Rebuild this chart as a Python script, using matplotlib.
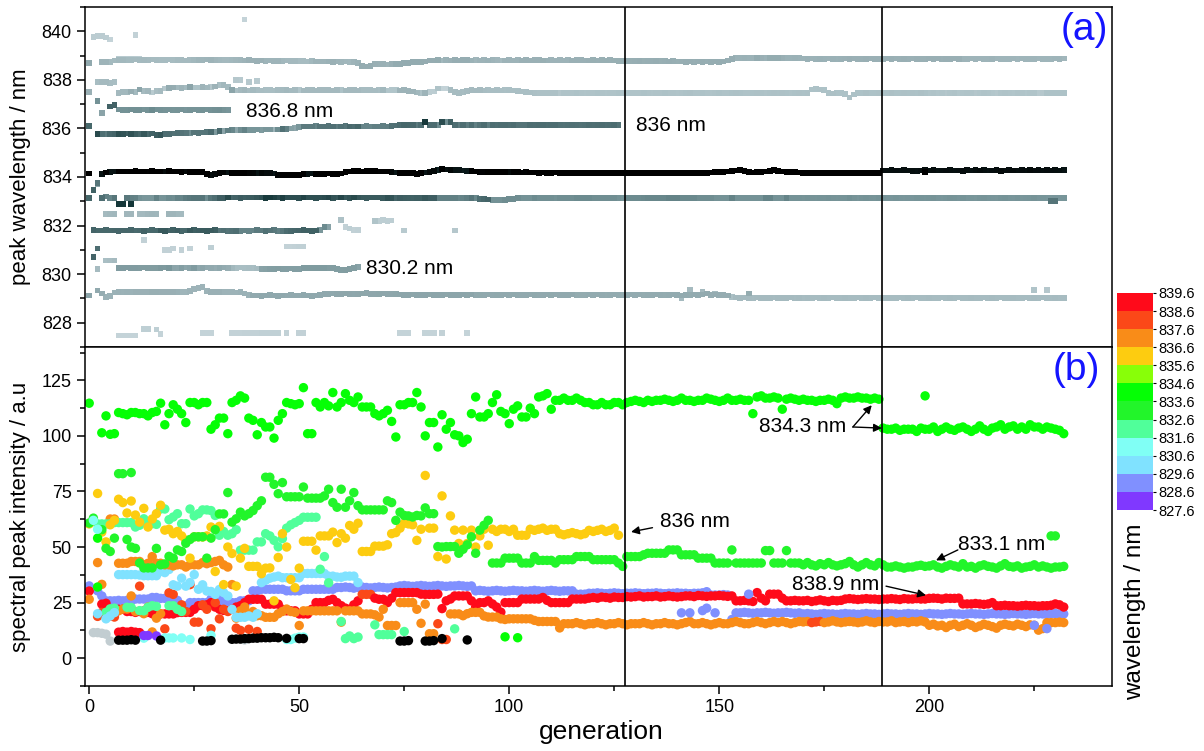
import numpy as np
import matplotlib
matplotlib.use("Agg")
import matplotlib.pyplot as plt
from matplotlib.colors import ListedColormap, BoundaryNorm, LinearSegmentedColormap, Normalize
from matplotlib.cm import ScalarMappable

plt.rcParams['font.family'] = ['Liberation Sans', 'DejaVu Sans']

# ---------------------------------------------------------------------------
# Peak tracks: wavelength (nm) and spectral intensity (a.u.) per generation.
# None marks a generation where the peak was not detected.
# ---------------------------------------------------------------------------

# 834.2 nm mode, generations 0-232
start_834 = 0
wl_834 = [834.14, None, None, 834.13, 834.18, 834.21, 834.23, 834.23, 834.22, 834.23,
          834.23, 834.24, 834.23, 834.22, 834.23, 834.24, 834.23, 834.22, 834.23, 834.24,
          834.23, 834.22, 834.21, 834.22, 834.21, 834.2, 834.2, 834.19, 834.13, 834.07,
          834.13, 834.15, 834.18, 834.18, 834.17, 834.16, 834.16, 834.17, 834.16, 834.16,
          834.17, 834.16, 834.15, 834.15, 834.14, 834.08, 834.07, 834.07, 834.08, 834.07,
          834.09, 834.13, 834.13, 834.14, 834.13, 834.12, 834.13, 834.14, 834.13, 834.12,
          834.14, 834.2, 834.22, 834.24, 834.24, 834.23, 834.24, 834.25, 834.24, 834.23,
          834.23, 834.22, 834.2, 834.18, 834.17, 834.16, 834.16, 834.15, 834.12, 834.16,
          834.18, 834.2, 834.24, 834.3, 834.33, 834.31, 834.28, 834.3, 834.29, 834.27,
          834.25, 834.24, 834.22, 834.21, 834.2, 834.21, 834.2, 834.19, 834.2, 834.19,
          834.2, 834.19, 834.19, 834.18, 834.19, 834.18, 834.18, 834.17, 834.18, 834.17,
          834.17, 834.18, 834.17, 834.17, 834.16, 834.17, 834.16, 834.17, 834.16, 834.16,
          834.16, 834.17, 834.16, 834.16, 834.17, 834.16, 834.16, 834.16, 834.16, 834.17,
          834.16, 834.16, 834.17, 834.16, 834.16, 834.16, 834.17, 834.16, 834.16, 834.17,
          834.16, 834.16, 834.17, 834.16, 834.16, 834.17, 834.16, 834.17, 834.18, 834.2,
          834.21, 834.2, 834.22, 834.24, 834.27, 834.3, 834.26, 834.2, 834.18, 834.19,
          834.2, 834.22, 834.25, 834.28, 834.26, 834.22, 834.2, 834.2, 834.19, 834.18,
          834.17, 834.17, 834.16, 834.16, 834.17, 834.16, 834.16, 834.17, 834.16, 834.16,
          834.16, 834.17, 834.16, 834.16, 834.16, 834.17, 834.16, 834.16, 834.17, 834.27,
          834.27, 834.28, 834.27, 834.27, 834.28, 834.27, 834.24, 834.26, 834.27, 834.28,
          834.27, 834.28, 834.27, 834.27, 834.27, 834.28, 834.27, 834.27, 834.24, 834.28,
          834.27, 834.28, 834.27, 834.28, 834.27, 834.27, 834.28, 834.25, 834.27, 834.28,
          834.27, 834.27, 834.28, 834.27, 834.28, 834.27, 834.28, 834.27, 834.28, 834.27,
          834.28, 834.27, 834.28]
amp_834 = [114.7, None, None, 101.4, 109, 100.7, 101, 110.5, 110, 109.5,
           110.5, 110.5, 110, 110, 109, 110.5, 111, 114.7, 105, 110,
           114, 112, 110, 106, 115, 115, 114, 115, 115, 103,
           105, 108, 108, 101, 115, 116, 118, 117, 108, 107,
           100.5, 106, 104, 104, 99, 107, 110, 115, 114.5, 114,
           114.5, 121.7, 101, 101, 115, 113, 115, 113.5, 119.5, 113,
           115, 119, 116, 115, 117.5, 113, 113, 113, 110, 109,
           110, 111.5, 106.5, 99.5, 114, 114, 115, 115, 119.5, 113,
           100, 106, 106, 95, 109.5, 103, 106, 100.5, 100, 97,
           98.5, 110, 117.5, 108.5, 108.5, 110, 115, 118.5, 111, 110,
           105.5, 112, 113.5, 108.5, 108.5, 112.5, 110, 117.5, 118, 119,
           112, 116, 116, 117, 116, 116, 117, 116, 115, 115,
           114, 114, 115, 114, 114, 115, 115, 114, 115, 115.5,
           116, 115.5, 115, 116, 115.5, 116, 116, 116.5, 116, 115.5,
           116, 117, 116, 116, 115.5, 116, 116, 117, 116.5, 116,
           115.5, 116, 117, 116, 116, 116.5, 116, 116, 110, 117.5,
           118, 117, 117, 117.5, 117, 112, 116.5, 117, 116.5, 116,
           116.5, 116, 116, 115.5, 116, 116, 116.5, 116, 114.5, 117,
           117.5, 117, 117, 117.5, 117, 117, 116.5, 117, 116.5, 103.5,
           103, 103, 103.5, 102.5, 103, 103, 103, 102, 103.5, 103,
           103, 104, 102, 103, 104, 103, 102.5, 103.5, 104, 103,
           102, 103, 104.5, 103, 102, 103.5, 104, 105, 103, 104,
           104.5, 103, 104, 103, 105, 104, 104, 103, 104, 103.5,
           103, 102.5, 101]

# 833.1 nm mode, generations 0-232
start_833 = 0
wl_833 = [833.13, None, None, 833.13, 833.2, 833.13, 833.14, None, None, 833.13,
          833.12, 833.13, 833.14, 833.13, 833.12, 833.13, 833.14, 833.13, 833.12, 833.13,
          833.14, 833.13, 833.12, 833.13, 833.14, 833.13, 833.12, 833.13, 833.14, 833.13,
          833.12, 833.13, 833.14, 833.15, 833.16, 833.15, 833.14, 833.15, 833.16, 833.15,
          833.16, 833.15, 833.14, 833.15, 833.16, 833.15, 833.14, 833.15, 833.16, 833.15,
          833.14, 833.15, 833.16, 833.15, 833.14, 833.15, 833.16, 833.15, 833.14, 833.15,
          833.16, 833.15, 833.14, 833.15, 833.16, 833.15, 833.14, 833.15, 833.16, 833.15,
          833.14, 833.13, 833.14, 833.13, 833.12, 833.13, 833.14, 833.13, 833.12, 833.13,
          833.12, 833.13, 833.14, 833.13, 833.12, 833.13, 833.12, 833.13, 833.12, 833.13,
          833.12, 833.13, 833.12, 833.1, 833.08, 833.07, 833.06, 833.05, 833.04, 833.06,
          833.08, 833.1, 833.12, 833.13, 833.12, 833.13, 833.12, 833.13, 833.12, 833.13,
          833.12, 833.13, 833.12, 833.13, 833.12, 833.13, 833.12, 833.13, 833.12, 833.13,
          833.12, 833.13, 833.12, 833.13, 833.12, 833.13, 833.12, 833.13, 833.12, 833.13,
          833.12, 833.13, 833.12, 833.13, 833.12, 833.13, 833.12, 833.13, 833.12, 833.13,
          833.12, 833.13, 833.12, 833.13, 833.12, 833.13, 833.12, 833.13, 833.12, 833.13,
          833.12, 833.13, 833.12, 833.13, 833.12, 833.13, 833.12, 833.13, 833.12, 833.13,
          833.12, 833.13, 833.12, 833.13, 833.12, 833.13, 833.12, 833.13, 833.12, 833.13,
          833.12, 833.13, 833.12, 833.13, 833.12, 833.13, 833.12, 833.13, 833.12, 833.13,
          833.12, 833.13, 833.12, 833.13, 833.12, 833.13, 833.12, 833.13, 833.12, 833.13,
          833.12, 833.13, 833.12, 833.13, 833.12, 833.13, 833.12, 833.13, 833.12, 833.13,
          833.12, 833.13, 833.12, 833.13, 833.12, 833.13, 833.12, 833.13, 833.12, 833.13,
          833.12, 833.13, 833.12, 833.13, 833.12, 833.13, 833.12, 833.13, 833.12, 833.13,
          833.12, 833.13, 833.12, 833.13, 833.12, 833.13, 833.12, 833.13, 833.12, 833.13,
          833.12, 833.13, 833.12]
amp_833 = [60.8, None, None, 57.8, 49.4, 48, 54, None, None, 53.4,
           50, 49.4, 42.8, 40.6, 40.6, 40.6, 49.4, 42, 42.4, 45.8,
           45, 48.7, 48, 51.7, 53.4, 54.6, 54.6, 54.6, 45, 54,
           57.8, 64.9, 64.9, 74.5, 61.2, 62.7, 65.7, 64, 65, 66.4,
           68.6, 70.8, 81.4, 81.4, 78.2, 74, 79, 72.6, 72.6, 72.6,
           72.6, 77, 72, 72, 72, 72, 73, 76, 70, 67.9,
           76, 67.9, 70.8, 74.5, 68.6, 66.7, 66.7, 66.7, 66.7, 66.7,
           66.7, 70.8, 70, 62, 65.7, 64.2, 64, 63.5, 64.2, 64,
           67.6, 65, 65, 50.2, 50, 50.2, 50.2, 50.2, 47.2, 49,
           51, 54.6, 47.2, 57.6, 59.8, 62, 42.8, 42.8, 42.8, 45,
           45, 45, 45, 42.8, 42.8, 42.8, 45.7, 44, 44, 44,
           44, 42.8, 44.3, 44.3, 44.3, 44.3, 45.7, 45.7, 45.7, 45.7,
           44.3, 44.3, 44.3, 44.3, 44.3, 44.3, 42.8, 41.3, 45.7, 45.7,
           45.7, 45.7, 46.5, 47.2, 47.2, 47.2, 47.2, 47.2, 48.7, 48.7,
           48.7, 46.5, 46.5, 46.5, 46.5, 45, 45, 45, 45, 42.8,
           42.8, 42.8, 42.8, 48.7, 42.8, 42.8, 42.8, 42.8, 42.8, 42.8,
           42.8, 48.4, 48.4, 42.8, 42.8, 42.8, 48.4, 42.8, 42.8, 42.8,
           42, 43, 42, 41.5, 42.5, 42, 43, 42, 41.5, 42,
           42.5, 43.5, 42, 41, 42, 43, 42, 41.5, 43, 42,
           41, 41, 41.5, 41, 40.5, 41, 41, 41.5, 41.8, 41.3,
           41.5, 42, 41, 40.5, 41.3, 42, 41.5, 41, 42.5, 41,
           41.3, 40.5, 41.5, 42, 41.3, 41, 40.5, 41.5, 42.5, 41.3,
           41, 41.5, 40.5, 41, 41.3, 42, 41, 41.5, 41, 40.5,
           41, 41, 41.3]

# 838.9 nm mode, generations 0-232
start_839 = 0
wl_839 = [838.7, None, None, 838.74, 838.74, 838.74, 838.8, 838.83, 838.83, 838.82,
          838.83, 838.84, 838.83, 838.82, 838.83, 838.84, 838.83, 838.82, 838.83, 838.84,
          838.82, 838.83, 838.82, 838.8, 838.82, 838.83, 838.82, 838.83, 838.84, 838.83,
          838.82, 838.81, 838.82, 838.83, 838.82, 838.81, 838.82, 838.8, 838.81, 838.8,
          838.79, 838.8, 838.79, 838.8, 838.79, 838.78, 838.79, 838.8, 838.79, 838.78,
          838.78, 838.77, 838.76, 838.77, 838.76, 838.75, 838.76, 838.75, 838.74, 838.75,
          838.74, 838.75, 838.74, 838.72, 838.7, 838.56, 838.55, 838.56, 838.64, 838.64,
          838.64, 838.63, 838.64, 838.64, 838.65, 838.68, 838.7, 838.72, 838.74, 838.74,
          838.76, 838.8, 838.8, 838.81, 838.8, 838.82, 838.8, 838.83, 838.8, 838.82,
          838.81, 838.8, 838.82, 838.8, 838.81, 838.8, 838.82, 838.81, 838.8, 838.8,
          838.81, 838.8, 838.82, 838.8, 838.81, 838.8, 838.82, 838.81, 838.8, 838.8,
          838.81, 838.8, 838.82, 838.8, 838.81, 838.8, 838.82, 838.81, 838.8, 838.8,
          838.81, 838.8, 838.82, 838.8, 838.81, 838.8, 838.79, 838.78, 838.78, 838.79,
          838.78, 838.77, 838.78, 838.79, 838.78, 838.77, 838.78, 838.77, 838.76, 838.77,
          838.76, 838.75, 838.74, 838.75, 838.74, 838.75, 838.74, 838.75, 838.74, 838.75,
          838.74, 838.76, 838.8, 838.86, 838.9, 838.9, 838.91, 838.9, 838.89, 838.9,
          838.91, 838.9, 838.89, 838.9, 838.91, 838.9, 838.89, 838.9, 838.91, 838.9,
          838.88, 838.87, 838.88, 838.87, 838.86, 838.87, 838.88, 838.87, 838.86, 838.87,
          838.88, 838.87, 838.88, 838.87, 838.86, 838.87, 838.88, 838.87, 838.86, 838.87,
          838.88, 838.87, 838.88, 838.87, 838.86, 838.87, 838.88, 838.87, 838.86, 838.87,
          838.88, 838.87, 838.88, 838.87, 838.86, 838.87, 838.88, 838.87, 838.86, 838.87,
          838.88, 838.87, 838.88, 838.87, 838.86, 838.87, 838.88, 838.87, 838.86, 838.87,
          838.88, 838.87, 838.88, 838.87, 838.86, 838.87, 838.88, 838.87, 838.86, 838.87,
          838.88, 838.87, 838.88]
amp_839 = [30.2, None, None, 24.3, 24.7, 21, 21, 22, 22, 21,
           21, 20.6, 21, 21.3, 20.6, 20, 20, 19.9, 19.9, 19.9,
           19.9, 20.5, 20.6, 20.6, 20.6, 22, 23.6, 23.6, 24, 25,
           23, 22, 21.5, 21.3, 22, 23, 23.6, 25, 26.5, 26.5,
           26.5, 26.5, 24.3, 24.3, 24.3, 24.3, 22, 21.3, 21.3, 21.3,
           19.9, 19.9, 19.9, 22, 25, 25, 25, 26, 26.5, 25,
           23.6, 22.5, 22, 24, 25.8, 28.7, 28.7, 28.7, 27, 26.5,
           26.5, 25, 27, 29.5, 29.5, 29.5, 29.5, 29.5, 29.5, 28.8,
           28.7, 28.7, 28.7, 28.8, 22.3, 25.8, 26.6, 28, 28, 28,
           28, 25.8, 23, 25, 25, 25.8, 24.4, 23, 20.7, 25,
           25, 25, 25, 26.6, 26.6, 26.6, 26.6, 26.6, 27.3, 26,
           25, 25, 25, 25, 25, 26.6, 26.6, 26.6, 26.6, 27,
           27.3, 27, 27.5, 27.3, 27, 27.5, 27.3, 27.3, 27.7, 27.5,
           27.7, 28, 27.5, 27.7, 27.7, 28, 27.5, 27.7, 28, 27.7,
           27.5, 27.7, 28, 28, 27.7, 28.2, 28, 27.8, 28, 28,
           28.2, 28, 27.8, 28, 25.8, 25.8, 26, 25.8, 25.5, 29.5,
           27, 25.8, 28.8, 28.8, 28.8, 27, 25.8, 25.8, 26, 25.8,
           25.8, 26, 25.5, 25.8, 26.2, 25.8, 25.5, 26, 25.8, 26,
           26.6, 26.8, 26.6, 26.4, 26.6, 26.8, 26.6, 26.6, 26.4, 26.6,
           26.6, 26.8, 26.6, 26.4, 26.8, 26.6, 26.6, 26.8, 26.6, 26.6,
           26.9, 27, 26.9, 26.6, 27, 26.9, 26.9, 27, 24.4, 24.4,
           24.4, 24.6, 24.4, 24.2, 24.4, 25, 23.6, 23.6, 23.8, 23.6,
           23.6, 23.4, 23.6, 23.8, 23.6, 23.6, 23.4, 23.6, 23.6, 23.8,
           24.4, 24, 23]

# 837.5 nm mode, generations 0-232
start_837 = 0
wl_837 = [837.5, None, None, None, None, None, None, 837.46, 837.5, 837.5,
          837.52, 837.5, 837.6, 837.54, 837.54, 837.48, 837.54, 837.55, 837.64, 837.65,
          837.68, 837.68, 837.66, 837.68, 837.7, 837.68, 837.68, 837.7, 837.68, 837.7,
          837.73, 837.78, 837.8, 837.7, 837.57, 837.56, 837.57, 837.58, 837.56, 837.57,
          837.57, 837.56, 837.58, 837.57, 837.56, 837.57, 837.58, 837.57, 837.56, 837.57,
          837.57, 837.56, 837.58, 837.57, 837.56, 837.57, 837.58, 837.57, 837.56, 837.57,
          837.57, 837.56, 837.58, 837.57, 837.56, 837.57, 837.58, 837.57, 837.56, 837.57,
          837.57, 837.56, 837.58, 837.57, 837.56, 837.57, 837.55, 837.52, 837.48, 837.46,
          837.45, 837.5, 837.52, 837.64, 837.64, 837.64, 837.57, 837.5, 837.45, 837.5,
          837.55, 837.57, 837.56, 837.57, 837.56, 837.57, 837.56, 837.57, 837.56, 837.57,
          837.57, 837.56, 837.55, 837.52, 837.5, 837.48, 837.47, 837.46, 837.46, 837.46,
          837.46, 837.45, 837.46, 837.47, 837.46, 837.45, 837.46, 837.47, 837.46, 837.45,
          837.46, 837.45, 837.46, 837.47, 837.46, 837.45, 837.46, 837.47, 837.46, 837.45,
          837.46, 837.45, 837.46, 837.47, 837.46, 837.45, 837.46, 837.47, 837.46, 837.45,
          837.46, 837.45, 837.46, 837.47, 837.46, 837.45, 837.46, 837.47, 837.46, 837.45,
          837.46, 837.45, 837.46, 837.47, 837.46, 837.45, 837.46, 837.47, 837.46, 837.45,
          837.46, 837.45, 837.46, 837.47, 837.46, 837.45, 837.46, 837.47, 837.46, 837.45,
          837.46, 837.46, 837.6, 837.62, 837.6, 837.58, 837.46, 837.44, 837.46, 837.46,
          837.42, 837.27, 837.4, 837.46, 837.45, 837.46, 837.47, 837.46, 837.45, 837.46,
          837.46, 837.45, 837.46, 837.47, 837.46, 837.45, 837.46, 837.47, 837.46, 837.45,
          837.46, 837.45, 837.46, 837.47, 837.46, 837.45, 837.46, 837.47, 837.46, 837.45,
          837.46, 837.45, 837.46, 837.47, 837.46, 837.45, 837.46, 837.47, 837.46, 837.45,
          837.46, 837.45, 837.46, 837.47, 837.46, 837.45, 837.46, 837.47, 837.46, 837.45,
          837.46, 837.45, 837.46]
amp_837 = [26.5, None, None, None, None, None, None, 21.3, 22.1, 22.1,
           28, 21, 32.4, 20, 23, 11.8, 18, 20, 13.2, 29.4,
           28.7, 22, 24, 21, 33.1, 16.2, 16.2, 24, 22, 13.2,
           25, 17.7, 22, 21, 33.1, 18, 21.3, 23, 20, 21,
           19.1, 19.1, 18.4, 18.4, 18.4, 20, 21, 22.1, 21, 20.6,
           14.7, 21.3, 21.3, 21.3, 21.3, 21.3, 21.3, 21.3, 21.3, 21.3,
           16.2, 21.3, 21.3, 21.3, 21.3, 19.9, 19.9, 19.9, 19.5, 18.5,
           22, 14.7, 14.7, 14.7, 25, 25, 25, 25, 22, 15.7,
           24.3, 11, 11, 15.5, 8.4, 8.4, 19.9, 19.9, 19.9, 19.1,
           20, 20.6, 20.6, 20.6, 19, 18.5, 18.5, 18.5, 17.7, 17.4,
           17.7, 17.7, 17.7, 17.7, 17.7, 17.7, 17, 16.5, 16.5, 16.5,
           16.5, 16.5, 13.6, 15.5, 15.5, 15.5, 16, 15.5, 15, 15.5,
           15.5, 16, 15.5, 15, 15.5, 15.5, 16, 15.5, 15, 15.5,
           15.5, 15.5, 16, 15.5, 15, 15.5, 15.5, 16, 15.5, 15.5,
           15, 15.5, 16, 16.5, 15.5, 15.5, 16, 15.5, 15, 15.5,
           16, 15.5, 15.5, 16, 16.5, 16, 15.5, 15.5, 16, 16.5,
           16, 15.5, 16, 16.5, 16, 16.5, 16, 15.5, 16, 16.5,
           16.3, 16.5, 16, 16.3, 16.5, 16, 16.3, 16.8, 16.3, 16,
           16.3, 16.5, 16.3, 16, 16.3, 16.8, 16.3, 16, 16.5, 16.3,
           16.3, 16.8, 16, 16.3, 16.5, 16, 16.5, 16.3, 16.8, 16.3,
           14.8, 15.3, 14.5, 14.8, 13.8, 14.8, 15.3, 14.2, 14.8, 15.5,
           14.8, 13.8, 14.5, 15.3, 14.8, 14.2, 13.5, 14.8, 15.3, 14.8,
           14.5, 15.3, 14.8, 14.2, 15, 14.8, 12.6, 13.3, 16, 16,
           16, 16.2, 16]

# 829.1 nm mode, generations 0-232
start_829 = 0
wl_829 = [829.12, None, 829.33, 829.2, 829.05, 829.1, 829.24, 829.26, 829.26, 829.25,
          829.26, 829.27, 829.26, 829.25, 829.26, 829.27, 829.26, 829.25, 829.26, 829.27,
          829.26, 829.26, 829.25, 829.26, 829.3, 829.38, 829.42, 829.46, 829.3, 829.26,
          829.26, 829.25, 829.26, 829.27, 829.26, 829.24, 829.25, 829.2, 829.15, 829.12,
          829.12, 829.11, 829.12, 829.13, 829.12, 829.11, 829.12, 829.12, 829.13, 829.12,
          829.12, 829.13, 829.12, 829.11, 829.12, 829.14, 829.18, 829.19, 829.2, 829.19,
          829.19, 829.2, 829.19, 829.18, 829.19, 829.2, 829.22, 829.19, 829.18, 829.19,
          829.2, 829.19, 829.18, 829.17, 829.16, 829.15, 829.15, 829.16, 829.15, 829.14,
          829.15, 829.16, 829.15, 829.14, 829.15, 829.16, 829.15, 829.14, 829.15, 829.16,
          829.15, 829.16, 829.15, 829.14, 829.15, 829.16, 829.15, 829.14, 829.15, 829.16,
          829.15, 829.16, 829.15, 829.14, 829.15, 829.16, 829.15, 829.14, 829.15, 829.16,
          829.15, 829.16, 829.15, 829.14, 829.15, 829.16, 829.15, 829.14, 829.15, 829.16,
          829.15, 829.16, 829.15, 829.14, 829.15, 829.16, 829.15, 829.14, 829.15, 829.16,
          829.15, 829.16, 829.15, 829.14, 829.15, 829.16, 829.15, 829.14, 829.15, 829.16,
          829.15, 829.12, 829.14, 829.15, 829.16, 829.15, 829.16, 829.2, 829.15, 829.16,
          829.15, 829.14, 829.12, 829.06, 829.04, 829.03, 829.04, 829.03, 829.03, 829.04,
          829.03, 829.02, 829.03, 829.04, 829.03, 829.02, 829.03, 829.04, 829.03, 829.02,
          829.03, 829.02, 829.03, 829.04, 829.03, 829.02, 829.03, 829.04, 829.03, 829.02,
          829.03, 829.02, 829.03, 829.04, 829.03, 829.02, 829.03, 829.04, 829.03, 829.02,
          829.03, 829.02, 829.03, 829.04, 829.03, 829.02, 829.03, 829.04, 829.03, 829.02,
          829.03, 829.02, 829.03, 829.04, 829.03, 829.02, 829.03, 829.04, 829.03, 829.02,
          829.03, 829.02, 829.03, 829.04, 829.03, 829.02, 829.03, 829.04, 829.03, 829.02,
          829.03, 829.02, 829.03, 829.04, 829.03, 829.02, 829.03, 829.04, 829.03, 829.02,
          829.03, 829.02, 829.03]
amp_829 = [32.5, None, 30.3, 28, 25.8, 25.8, 25.8, 26, 25.8, 26,
           25.8, 26.6, 26.6, 26.6, 26.6, 27.3, 27.3, 26.9, 26.9, 26.9,
           26.9, 26, 23.6, 23.6, 25, 25, 25, 25, 25, 26.6,
           26.6, 26.6, 25, 25, 25, 25, 25.8, 25.8, 25.8, 30.3,
           30.3, 31, 31, 31, 31, 31, 31, 30.3, 30.3, 30.3,
           30.3, 31, 31, 31, 31, 31, 31, 31, 31, 31.8,
           31.8, 32, 31.8, 31.5, 31.8, 32, 31.8, 31.6, 31.8, 32,
           31.8, 31.6, 31.8, 32, 32.5, 32.7, 32.5, 32.3, 32.5, 32.7,
           32.5, 32.3, 32.5, 32.7, 32.5, 32.3, 32.5, 32.5, 32.7, 32.5,
           32.3, 32.5, 30.3, 30.5, 30.3, 30.1, 30.3, 30.5, 30.3, 30.1,
           30.3, 30.5, 30.3, 30.3, 30.1, 30.3, 30.5, 30.3, 30.1, 30.3,
           30.5, 30.3, 30.1, 30.3, 30.3, 30.3, 28.8, 28.8, 28.8, 29.2,
           29.2, 29.4, 29.2, 29, 29.2, 29.4, 29.2, 29, 29.2, 29.2,
           29.4, 29.2, 29, 29.2, 29.2, 29.4, 29.2, 29, 29.2, 29.2,
           29.4, 29.2, 29.2, 29, 29.2, 29.2, 29.4, 29.9, 28.4, 28.4,
           28.4, 28.6, 28.4, 17.4, 20.4, 20.4, 20.6, 20.4, 20.2, 20.4,
           20.4, 20.6, 20.4, 20.2, 20.4, 20.4, 20.6, 20.4, 20.2, 20.4,
           19.9, 20.1, 19.9, 19.7, 19.9, 20.1, 19.9, 19.9, 19.7, 19.9,
           20.1, 19.9, 19.9, 19.7, 19.9, 20.1, 19.9, 19.9, 19.7, 19.9,
           20.1, 19.9, 19.9, 19.7, 19.9, 20.1, 19.9, 19.9, 19.7, 19.9,
           20.1, 19.9, 19.9, 19.7, 19.9, 20.1, 19.9, 19.9, 19.7, 19.9,
           20.1, 19.9, 19.9, 19.7, 19.9, 20.1, 19.9, 19.9, 19.7, 19.9,
           20.1, 19.9, 19.9, 19.7, 19.9, 20.1, 19.9, 19.9, 19.7, 19.9,
           20.1, 19.9, 19.9]

# 836 nm mode, generations 0-126 (vanishes at the first shift)
start_836 = 0
wl_836 = [836.09, None, 835.76, 835.78, 835.78, 835.77, 835.76, 835.78, 835.78, 835.79,
          835.78, 835.78, 835.77, 835.78, 835.78, 835.79, 835.74, 835.72, 835.76, 835.78,
          835.79, 835.8, 835.8, 835.82, 835.82, 835.83, 835.82, 835.83, 835.84, 835.84,
          835.86, 835.88, 835.9, 835.91, 835.92, 835.93, 835.93, 835.94, 835.93, 835.94,
          835.95, 835.94, 835.95, 835.96, 835.95, 835.96, 835.98, 835.99, 836.0, 836.02,
          836.05, 836.08, 836.08, 836.08, 836.09, 836.08, 836.08, 836.09, 836.08, 836.08,
          836.08, 836.09, 836.08, 836.08, 836.08, 836.08, 836.09, 836.08, 836.08, 836.08,
          836.09, 836.08, 836.1, 836.12, 836.13, 836.13, 836.13, 836.13, 836.13, 836.15,
          836.26, 836.14, 836.13, 836.13, 836.26, 836.26, 836.26, 836.13, 836.13, 836.13,
          836.13, 836.14, 836.13, 836.13, 836.14, 836.13, 836.13, 836.14, 836.13, 836.13,
          836.14, 836.13, 836.13, 836.14, 836.13, 836.13, 836.14, 836.13, 836.13, 836.14,
          836.13, 836.13, 836.14, 836.13, 836.13, 836.14, 836.13, 836.13, 836.14, 836.13,
          836.13, 836.14, 836.13, 836.13, 836.14, 836.13, 836.13]
amp_836 = [60.4, None, 74.1, 56.7, 52.3, 60, 62, 71.5, 70, 65.3,
           70.7, 64.4, 61.2, 67.4, 59, 62.6, 65, 68.8, 57.6, 58,
           56, 57, 55, 53.1, 45, 54.6, 54.6, 54.5, 55, 59,
           39, 59.3, 33.1, 50, 47.1, 32.4, 45, 49.4, 41.3, 41.3,
           41.3, 38, 40.5, 40.6, 25.8, 45.3, 56, 50, 35.4, 31.7,
           40.5, 52.6, 52.6, 52.6, 48.6, 55, 55, 55, 56.7, 52,
           56, 54, 59.7, 58, 60.7, 48, 48, 48, 50.4, 50.4,
           50.4, 51, 56, 56.5, 58.5, 60.7, 60.4, 60, 53, 58,
           82.2, 58.5, 58.5, 45.7, 73, 44.6, 64, 57.6, 51.6, 57.6,
           51.6, 57.6, 50, 55, 58, 50.8, 58, 57, 58, 58,
           57, 58, 55.3, 55.3, 55.3, 58, 57.5, 58, 58.5, 57.5,
           58, 58, 56, 55.5, 56, 56.5, 56, 55.5, 56, 57.5,
           57, 57.5, 58, 57, 57.5, 58.5, 55.3]

# 836.8 nm mode, generations 3-33
start_8368 = 3
wl_8368 = [836.63, None, 836.9, 836.95, 836.78, 836.77, 836.77, 836.78, 836.77, 836.77,
           836.78, 836.77, 836.77, 836.78, 836.77, 836.77, 836.78, 836.77, 836.77, 836.78,
           836.77, 836.77, 836.78, 836.77, 836.77, 836.78, 836.77, 836.76, 836.75, 836.76,
           836.75]
amp_8368 = [33.2, None, 62.6, 62.6, 42.7, 42.7, 42.7, 43.5, 43.5, 43.5,
            42, 42.7, 45.7, 42.7, 42.7, 42, 42, 41.5, 42, 42,
            41, 42, 42, 42, 43, 42.5, 43, 43.5, 44, 42,
            41]

# 831.8 nm mode, generations 1-72
start_8318 = 1
wl_8318 = [831.83, 831.8, 831.8, 831.81, 831.8, 831.8, 831.79, 831.8, 831.8, 831.81,
           831.8, 831.8, 831.79, 831.8, 831.81, 831.8, 831.8, 831.79, 831.8, 831.81,
           831.8, 831.79, 831.8, 831.8, 831.81, 831.8, 831.8, 831.79, 831.8, 831.81,
           831.8, 831.8, 831.79, 831.78, 831.77, 831.78, 831.8, 831.79, 831.8, 831.81,
           831.8, 831.79, 831.8, 831.81, 831.79, 831.78, 831.77, 831.78, 831.8, 831.8,
           831.81, 831.8, 831.79, 831.8, 831.81, 831.93, 831.93, 831.95, 832.0, 832.24,
           831.93, 831.88, 831.83, 831.82, None, None, None, 832.2, 832.2, 832.22,
           832.2, 832.21]
amp_8318 = [62, 60.4, 60.4, 60.4, 60.5, 61, 61, 61, 61, 61,
            59, 59.8, 62.7, 60.5, 60.5, 60.2, 67.1, 67.1, 62.3, 63.5,
            65, 60.5, 60.5, 67.1, 64, 65, 66.7, 66.7, 66.4, 64.2,
            55.3, 57, 55.3, 56, 57.8, 48.6, 48.6, 48.6, 48.6, 52.3,
            52.3, 56, 55, 53, 50.1, 53.8, 58.5, 60, 61, 62,
            63.4, 63.4, 63.4, 63.4, 40, 45.7, 33.9, None, None, 16.5,
            8.8, 10, 8.8, 9.5, None, None, None, 15, 10.6, 10.6,
            10.6, 10.6]

# 830.2 nm mode, generations 7-64
start_8302 = 7
wl_8302 = [830.26, 830.26, 830.27, 830.26, 830.25, 830.26, 830.27, 830.26, 830.26, 830.25,
           830.26, 830.27, 830.26, 830.25, 830.26, 830.26, 830.27, 830.26, 830.25, 830.26,
           830.26, 830.27, 830.26, 830.25, 830.26, 830.27, 830.26, 830.25, 830.26, 830.27,
           830.26, 830.25, 830.24, 830.23, 830.22, 830.22, 830.21, 830.22, 830.23, 830.22,
           830.22, 830.23, 830.22, 830.22, 830.24, 830.25, 830.26, 830.25, 830.26, 830.26,
           830.25, 830.26, 830.2, 830.18, 830.18, 830.2, 830.24, 830.29]
amp_8302 = [37.6, 37.6, 37.6, 37.6, 37.6, 37.4, 37.1, 37.1, 37.1, 37.1,
            39, 38.5, 39.9, 33, 32.4, 36, 32.4, 34, 37.6, 31,
            33, 30.2, 30, 28.7, 30.9, 29.5, 28, 22, 18.4, 18.4,
            18.4, 19, 18.4, 20, 34, 35, 36, 36.5, 36.9, 36.2,
            36.2, 36.2, 36.2, 36.2, 38.1, 38.1, 38.1, 38.1, 38.1, 38.1,
            36.9, 36.9, 36.5, 36.4, 36.9, 36.9, 36.9, 34]

# isolated peaks: (generation, wavelength nm, intensity a.u.)
stray_peaks = [
    (1, 839.76, 11.5), (2, 839.8, 11.5), (3, 839.8, 11.2), (4, 839.74, 10.8),
    (5, 839.66, 7.7), (11, 839.86, 8.8), (37, 840.48, 8.2),
    (7, 838.86, 11.7), (8, 838.86, 12), (9, 838.86, 11.7), (10, 838.86, 12),
    (11, 838.86, 11.7), (12, 838.86, 11.5),
    (2, 837.9, 18.8), (3, 837.92, 20.6), (4, 837.92, 20.6), (5, 837.88, 19),
    (6, 837.9, 18.5), (35, 838.0, 13.5), (36, 838.0, 12.5), (38, 837.9, 13), (40, 837.94, 12),
    (2, 837.13, 43),
    (1, 833.45, 63), (2, 833.75, 54), (2, 833.7, 32), (7, 832.9, 83), (8, 832.9, 83),
    (10, 832.9, 83.5), (99, 834.2, 9.6), (102, 834.2, 9.2), (199, 834.2, 118),
    (229, 833.0, 55), (230, 833.0, 55),
    (1, 830.7, 62), (2, 831.05, 58), (13, 831.4, 9), (18, 831.0, 9.1), (19, 831.0, 9.1),
    (20, 831.05, 9.1), (22, 831.0, 9.1), (24, 831.05, 8.4), (29, 831.1, 10.3),
    (47, 831.14, 8.4), (48, 831.14, 8.4), (49, 831.14, 9), (50, 831.14, 9.5), (51, 831.14, 9.5),
    (4, 832.48, 20.6), (5, 832.48, 22.2), (6, 832.48, 22.5), (9, 832.48, 22.9),
    (10, 832.48, 22.8), (12, 832.48, 21.4), (13, 832.48, 21.3), (14, 832.48, 22.9),
    (15, 832.48, 23.6), (16, 832.48, 23.3), (19, 832.48, 23.6), (20, 832.48, 23.6),
    (21, 832.48, 22), (22, 832.48, 21), (75, 831.8, 12), (87, 831.8, 13.2),
    (2, 830.22, 20), (4, 830.56, 17.7), (5, 830.56, 19), (6, 830.56, 20.5),
    (141, 829.0, 20.4), (143, 829.35, 20.4), (146, 829.25, 21.4), (147, 829.2, 22.5),
    (149, 829.2, 20.4), (157, 829.2, 28.8), (225, 829.35, 14.8), (228, 829.35, 13.3),
    (13, 827.75, 10.2), (14, 827.75, 10.2), (16, 827.72, 10),
    (7, 827.47, 8.1), (8, 827.47, 8.1), (9, 827.47, 8.1), (10, 827.47, 8.3),
    (11, 827.47, 8.1), (17, 827.54, 8.1), (27, 827.57, 7.7), (28, 827.57, 7.7),
    (29, 827.57, 7.9), (34, 827.57, 8.5), (35, 827.57, 8.6), (36, 827.57, 8.6),
    (37, 827.57, 8.8), (38, 827.57, 8.8), (39, 827.57, 9), (40, 827.57, 9),
    (41, 827.57, 9.2), (42, 827.57, 9.2), (43, 827.57, 9.2), (44, 827.57, 9.4),
    (45, 827.57, 9.2), (47, 827.57, 8.9), (50, 827.57, 8.8), (51, 827.57, 8.8),
    (74, 827.57, 7.7), (75, 827.57, 7.7), (76, 827.57, 7.9), (80, 827.57, 7.7),
    (81, 827.57, 7.7), (82, 827.57, 7.9), (84, 827.57, 8.8), (90, 827.57, 8.2),
]

# generations at which the population was switched
shift_gens = [127.5, 188.8]

# colour scale of the lower panel
wl_bounds = [827.6, 828.6, 829.6, 830.6, 831.6, 832.6, 833.6,
             834.6, 835.6, 836.6, 837.6, 838.6, 839.6]
wl_colors = ['#8038FF', '#8090FF', '#80E2FF', '#80FFF5', '#50FF9A', '#22F52A',
             '#05FF05', '#88FF08', '#FDCC10', '#F98C18', '#FB4818', '#FF0A1A']


def track(name, start, wl, amp):
    if len(wl) != len(amp):
        raise ValueError(f"{name}: {len(wl)} wavelengths vs {len(amp)} intensities")
    wl = np.array(wl, dtype=float)
    amp = np.array(amp, dtype=float)
    gen = np.arange(start, start + len(wl))
    ok = ~np.isnan(wl) & ~np.isnan(amp)
    return gen[ok], wl[ok], amp[ok]


tracks = [
    track('829', start_829, wl_829, amp_829),
    track('839', start_839, wl_839, amp_839),
    track('837', start_837, wl_837, amp_837),
    track('8302', start_8302, wl_8302, amp_8302),
    track('8368', start_8368, wl_8368, amp_8368),
    track('8318', start_8318, wl_8318, amp_8318),
    track('836', start_836, wl_836, amp_836),
    track('833', start_833, wl_833, amp_833),
    track('834', start_834, wl_834, amp_834),
]
stray = np.array(stray_peaks, dtype=float)
tracks.append((stray[:, 0], stray[:, 1], stray[:, 2]))

gen = np.concatenate([t[0] for t in tracks])
wl = np.concatenate([t[1] for t in tracks])
amp = np.concatenate([t[2] for t in tracks])

# colour maps
wl_cmap = ListedColormap(wl_colors)
wl_cmap.set_over('#C2CDD1')
wl_cmap.set_under('black')
wl_norm = BoundaryNorm(wl_bounds, wl_cmap.N)

grey_cmap = LinearSegmentedColormap.from_list('peak_grey', [
    (0.0, '#C4D3D8'), (0.07, '#AFC3C8'), (0.17, '#9CB2B7'), (0.34, '#749296'),
    (0.48, '#4F6F73'), (0.74, '#143638'), (1.0, '#000000')])
amp_norm = Normalize(vmin=8, vmax=110, clip=True)

fig = plt.figure(figsize=(12.04, 7.51), dpi=100)
ax1 = fig.add_axes([0.0706, 0.538, 0.853, 0.4527])
ax2 = fig.add_axes([0.0706, 0.0866, 0.853, 0.4514])

# (a) peak positions, grey level follows the peak intensity
order = np.argsort(amp, kind='stable')
ax1.scatter(gen[order], wl[order], c=amp[order], cmap=grey_cmap, norm=amp_norm,
            marker='s', s=17, linewidths=0, zorder=2)

# (b) peak intensities, colour follows the peak wavelength
ax2.scatter(gen, amp, c=wl, cmap=wl_cmap, norm=wl_norm, s=46, linewidths=0, zorder=2)

for ax in (ax1, ax2):
    for g in shift_gens:
        ax.axvline(g, color='black', lw=1.2, zorder=3)
    ax.set_xlim(-1, 243.5)
    for sp in ax.spines.values():
        sp.set_linewidth(1.1)
    ax.tick_params(axis='both', which='major', direction='out', length=6, width=1.1,
                   labelsize=13)
    ax.tick_params(axis='both', which='minor', direction='out', length=3.5, width=1.1)

ax1.set_ylim(827, 841)
ax1.set_yticks(np.arange(828, 841, 2))
ax1.set_yticks(np.arange(827, 842, 1), minor=True)
ax1.set_xticks(np.arange(0, 201, 50))
ax1.set_xticks(np.arange(25, 240, 50), minor=True)
ax1.tick_params(axis='x', which='both', length=3, labelbottom=False)
ax1.set_ylabel('peak wavelength / nm', fontsize=16)
ax1.yaxis.set_label_coords(-0.053, 0.5)

ax2.set_ylim(-10, 140)
ax2.set_yticks(np.arange(0, 126, 25))
ax2.set_yticks(np.arange(-12.5, 140, 12.5), minor=True)
ax2.set_xticks(np.arange(0, 201, 50))
ax2.set_xticks(np.arange(25, 240, 50), minor=True)
ax2.set_ylabel('spectral peak intensity / a.u', fontsize=16)
ax2.yaxis.set_label_coords(-0.053, 0.5)
ax2.set_xlabel('generation', fontsize=19)
ax2.xaxis.set_label_coords(0.503, -0.1)

# annotations
ax1.text(37.3, 836.7, '836.8 nm', fontsize=15, va='center', ha='left')
ax1.text(65.9, 830.23, '830.2 nm', fontsize=15, va='center', ha='left')
ax1.text(130.2, 836.13, '836 nm', fontsize=15, va='center', ha='left')
ax1.text(0.996, 0.985, '(a)', transform=ax1.transAxes, fontsize=28, color='#1414FF',
         ha='right', va='top')
ax2.text(0.988, 0.985, '(b)', transform=ax2.transAxes, fontsize=28, color='#1414FF',
         ha='right', va='top')

arrow = dict(arrowstyle='-|>', lw=1.0, color='black', mutation_scale=12,
             shrinkA=0, shrinkB=0)
ax2.text(159.4, 104, '834.3 nm', fontsize=15, va='center', ha='left')
ax2.annotate('', xy=(186.3, 113.8), xytext=(181.8, 104), arrowprops=arrow)
ax2.annotate('', xy=(188.7, 103.5), xytext=(181.8, 104), arrowprops=arrow)
ax2.text(135.9, 61.6, '836 nm', fontsize=15, va='center', ha='left')
ax2.annotate('', xy=(129, 56.8), xytext=(134.1, 58.7), arrowprops=arrow)
ax2.text(206.8, 51.0, '833.1 nm', fontsize=15, va='center', ha='left')
ax2.annotate('', xy=(201.6, 44), xytext=(206.8, 48.7), arrowprops=arrow)
ax2.text(188.0, 33.2, '838.9 nm', fontsize=15, va='center', ha='right')
ax2.annotate('', xy=(199.2, 28.3), xytext=(189.7, 32.4), arrowprops=arrow)

# wavelength colour bar
cax = fig.add_axes([0.9277, 0.3209, 0.0299, 0.289])
cb = fig.colorbar(ScalarMappable(norm=wl_norm, cmap=wl_cmap), cax=cax,
                  ticks=wl_bounds, extend='neither')
cb.outline.set_visible(False)
cb.ax.set_yticklabels([f'{b:.1f}' for b in wl_bounds])
cb.ax.tick_params(length=2, width=0.8, labelsize=10.5, pad=2)
fig.text(0.9425, 0.185, 'wavelength / nm', rotation=90, fontsize=17.5,
         ha='center', va='center')

fig.savefig('out.png', dpi=100)
